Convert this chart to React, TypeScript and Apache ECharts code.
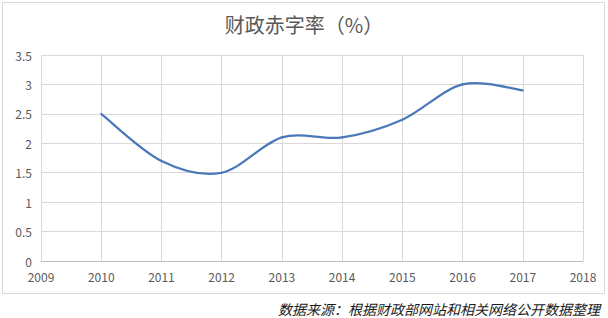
import React, { useEffect, useRef } from "react";
import * as echarts from "echarts";

const years = [2010, 2011, 2012, 2013, 2014, 2015, 2016, 2017];
const deficitRate = [2.5, 1.7, 1.5, 2.1, 2.1, 2.4, 3.0, 2.9];
const titleText = "财政赤字率（%）";
const sourceText = "数据来源：根据财政部网站和相关网络公开数据整理";

export default function App() {
  const ref = useRef<HTMLDivElement>(null);
  useEffect(() => {
    document.body.style.margin = "0";
    const chart = echarts.init(ref.current!, null, { renderer: "svg" });
    const font = "'Noto Sans CJK SC', 'Noto Sans', sans-serif";
    const pts = years.map((y, i) => [y, deficitRate[i]]);
    const n = pts.length;
    chart.setOption({
      animation: false,
      backgroundColor: "#ffffff",
      title: {
        text: titleText,
        left: "center",
        top: 9,
        textStyle: { fontSize: 20, fontWeight: "normal", color: "#595959", fontFamily: font },
      },
      grid: { left: 41, right: 25, top: 55, bottom: 57 },
      xAxis: {
        type: "value",
        min: 2009,
        max: 2018,
        interval: 1,
        axisLine: { show: true, lineStyle: { color: "#bfbfbf" } },
        axisTick: { show: false },
        axisLabel: { color: "#595959", fontSize: 12, margin: 9, fontFamily: font, formatter: (v: number) => String(v) },
        splitLine: { show: true, lineStyle: { color: "#d9d9d9" } },
      },
      yAxis: {
        type: "value",
        min: 0,
        max: 3.5,
        interval: 0.5,
        axisLine: { show: false },
        axisTick: { show: false },
        axisLabel: { color: "#595959", fontSize: 12, margin: 9, fontFamily: font },
        splitLine: { show: true, lineStyle: { color: "#d9d9d9" } },
      },
      series: [
        {
          type: "custom",
          data: pts,
          encode: { x: 0, y: 1 },
          renderItem: (params: any, api: any) => {
            const i = params.dataIndex;
            if (i >= n - 1) return null;
            const c = (k: number) => api.coord(pts[Math.max(0, Math.min(n - 1, k))]);
            const p0 = c(i - 1), p1 = c(i), p2 = c(i + 1), p3 = c(i + 2);
            return {
              type: "bezierCurve",
              shape: {
                x1: p1[0], y1: p1[1],
                cpx1: p1[0] + (p2[0] - p0[0]) / 6,
                cpy1: p1[1] + (p2[1] - p0[1]) / 6,
                cpx2: p2[0] - (p3[0] - p1[0]) / 6,
                cpy2: p2[1] - (p3[1] - p1[1]) / 6,
                x2: p2[0], y2: p2[1],
              },
              style: { fill: "none", stroke: "#4a78b8", lineWidth: 2.2, lineCap: "round" },
              silent: true,
            };
          },
        },
      ],
      graphic: [
        {
          type: "rect",
          shape: { x: 2.5, y: 2.5, width: 602, height: 291 },
          style: { fill: "none", stroke: "#d9d9d9", lineWidth: 1 },
          silent: true,
        },
        {
          type: "text",
          right: 8,
          top: 302,
          style: {
            text: sourceText,
            fill: "#1a1a1a",
            fontSize: 14,
            fontStyle: "italic",
            fontFamily: font,
          },
        },
      ],
    });
    return () => chart.dispose();
  }, []);
  return <div ref={ref} style={{ width: 608, height: 318 }} />;
}
